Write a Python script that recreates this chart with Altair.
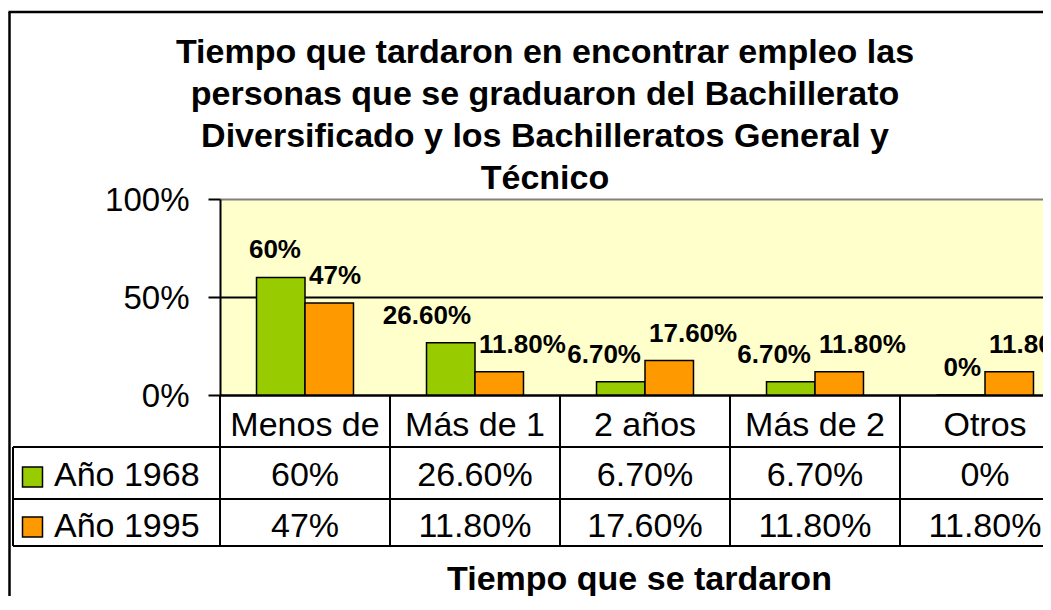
import altair as alt
import pandas as pd

# ---- data ----
categories = ["Menos de", "Más de 1", "2 años", "Más de 2", "Otros"]
series = ["Año 1968", "Año 1995"]
values_1968 = [60, 26.6, 6.7, 6.7, 0]
values_1995 = [47, 11.8, 17.6, 11.8, 11.8]
labels_1968 = ["60%", "26.60%", "6.70%", "6.70%", "0%"]
labels_1995 = ["47%", "11.80%", "17.60%", "11.80%", "11.80%"]
colors = ["#99CC00", "#FF9900"]
y_ticks = [0, 50, 100]
title_lines = [
    "Tiempo que tardaron en encontrar empleo las",
    "personas que se graduaron del Bachillerato",
    "Diversificado y los Bachilleratos General y",
    "Técnico",
]
x_title = "Tiempo que se tardaron"

rows = []
for s, vals, labs in [(series[0], values_1968, labels_1968), (series[1], values_1995, labels_1995)]:
    for c, v, l in zip(categories, vals, labs):
        rows.append({"cat": c, "serie": s, "valor": v, "etiqueta": l})
df = pd.DataFrame(rows)
df_cats = pd.DataFrame({"cat": categories})
df_series = pd.DataFrame({"serie": series})
one = pd.DataFrame({"k": [0]})

FONT = "Liberation Sans"
W, H = 823, 196

x_scale = alt.Scale(domain=categories, range=[0, 850], paddingInner=0, paddingOuter=0)
x_axis = alt.Axis(
    labelFont=FONT, labelFontSize=34, labelColor="black", labelAngle=0,
    labelBaseline="alphabetic", labelPadding=40, ticks=False, tickSize=0,
    domainColor="black", domainWidth=2, grid=False, labelOverlap=False,
    title=x_title, titleFont=FONT, titleFontSize=34, titleFontWeight="bold",
    titleColor="black", titleX=419, titleY=194, titleBaseline="alphabetic",
    titleAlign="center",
)
x_enc = alt.X("cat:N", sort=categories, scale=x_scale, axis=x_axis)
x_start = alt.X("cat:N", sort=categories, scale=x_scale, axis=x_axis, bandPosition=0)

y_scale = alt.Scale(domain=[0, 100])
y_axis = alt.Axis(
    values=y_ticks, labelExpr="datum.value + '%'", labelFont=FONT, labelFontSize=33,
    labelColor="black", labelPadding=19, labelBaseline="alphabetic", labelOffset=11,
    tickSize=12, tickColor="black", tickWidth=2, domainColor="black", domainWidth=2,
    grid=True, gridWidth=2,
    gridColor={"condition": {"test": "datum.value == 100", "value": "#808080"}, "value": "black"},
    title=None,
)
xoff = alt.XOffset("serie:N", sort=series, scale=alt.Scale(domain=series, paddingOuter=0.753, paddingInner=0))
color = alt.Color("serie:N", scale=alt.Scale(domain=series, range=colors), legend=None)

bars = alt.Chart(df).mark_bar(stroke="black", strokeWidth=1.5).encode(
    x=x_enc, xOffset=xoff,
    y=alt.Y("valor:Q", scale=y_scale, axis=y_axis),
    color=color,
)

label_style = dict(font=FONT, fontSize=26, fontWeight="bold", color="black",
                   baseline="alphabetic", dy=-19)
# first series: labels end just left of the group centre; second series: start just right of it
labels_a = alt.Chart(df).transform_filter(
    alt.datum.serie == series[0]
).mark_text(align="right", dx=-4, **label_style).encode(
    x=x_enc, y=alt.Y("valor:Q", scale=y_scale, axis=None), text="etiqueta:N",
)
labels_b = alt.Chart(df).transform_filter(
    alt.datum.serie == series[1]
).mark_text(align="left", dx=4, **label_style).encode(
    x=x_enc, y=alt.Y("valor:Q", scale=y_scale, axis=None), text="etiqueta:N",
)

row_scale = alt.Scale(domain=series, type="point", range=[287, 337.5], padding=0)
table_vals = alt.Chart(df).mark_text(
    font=FONT, fontSize=34, color="black", align="center", baseline="alphabetic",
).encode(
    x=x_enc,
    y=alt.Y("serie:N", sort=series, scale=row_scale, axis=None),
    text="etiqueta:N",
)

legend_text = alt.Chart(df_series).mark_text(
    font=FONT, fontSize=34, color="black", align="left", baseline="alphabetic",
).encode(
    x=alt.value(-166),
    y=alt.Y("serie:N", sort=series, scale=row_scale, axis=None),
    text="serie:N",
)

legend_sq = alt.Chart(df_series).mark_square(
    size=400, filled=True, opacity=1, stroke="black", strokeWidth=1.5,
).encode(
    x=alt.value(-187.5),
    y=alt.Y("serie:N", sort=series, scale=alt.Scale(domain=series, type="point", range=[278, 328], padding=0), axis=None),
    color=color,
)

line_style = dict(color="black", strokeWidth=2)
v_lines = alt.Chart(df_cats).mark_rule(**line_style).encode(
    x=x_start, y=alt.value(196), y2=alt.value(347),
)
leg_left = alt.Chart(one).mark_rule(**line_style).encode(
    x=alt.value(-207), y=alt.value(248), y2=alt.value(347))
h1 = alt.Chart(one).mark_rule(**line_style).encode(
    x=alt.value(-207), x2=alt.value(850), y=alt.value(248))
h2 = alt.Chart(one).mark_rule(**line_style).encode(
    x=alt.value(-207), x2=alt.value(850), y=alt.value(300))
h3 = alt.Chart(one).mark_rule(**line_style).encode(
    x=alt.value(-207), x2=alt.value(850), y=alt.value(347))

frame_l = alt.Chart(one).mark_rule(color="black", strokeWidth=2.5).encode(
    x=alt.value(-210.5), y=alt.value(-187), y2=alt.value(420))
frame_t = alt.Chart(one).mark_rule(color="black", strokeWidth=2.5).encode(
    x=alt.value(-211.5), x2=alt.value(845), y=alt.value(-187))

title = alt.Chart(one).mark_text(
    font=FONT, fontSize=34, fontWeight="bold", color="black",
    align="center", baseline="alphabetic", lineHeight=42,
).encode(
    x=alt.value(325), y=alt.value(-136), text=alt.value(title_lines),
)

chart = alt.layer(
    bars, labels_a, labels_b, table_vals, legend_sq, legend_text,
    v_lines, leg_left, h1, h2, h3, frame_l, frame_t, title,
).resolve_scale(y="independent").properties(
    width=W, height=H,
    padding={"left": 212, "top": 191, "right": 0, "bottom": 201},
    autosize=alt.AutoSizeParams(type="none"),
    background="white",
).configure_view(fill="#FFFFCC", strokeWidth=0)

chart.save("out.html", embed_options={"renderer": "svg", "actions": False})
